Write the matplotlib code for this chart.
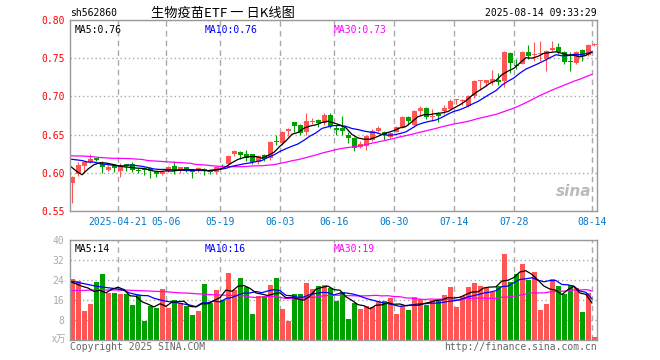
import numpy as np
import pandas as pd
import matplotlib
matplotlib.use('Agg')
from matplotlib import pyplot as plt

plt.rcParams['font.family'] = ['DejaVu Sans Mono', 'Noto Sans CJK SC']

# daily candles, 2025-04-09 .. 2025-08-14
open_ = [0.587, 0.598, 0.609, 0.614, 0.619, 0.612, 0.604, 0.610, 0.602, 0.611,
         0.612, 0.604, 0.606, 0.606, 0.601, 0.598, 0.602, 0.609, 0.602, 0.607,
         0.604, 0.603, 0.605, 0.602, 0.601, 0.609, 0.611, 0.625, 0.627, 0.625,
         0.624, 0.614, 0.623, 0.619, 0.641, 0.639, 0.655, 0.666, 0.662, 0.653,
         0.667, 0.669, 0.665, 0.676, 0.658, 0.659, 0.650, 0.645, 0.634, 0.635,
         0.643, 0.655, 0.654, 0.647, 0.654, 0.659, 0.673, 0.662, 0.681, 0.685,
         0.673, 0.677, 0.681, 0.684, 0.695, 0.694, 0.688, 0.700, 0.720, 0.718,
         0.719, 0.722, 0.720, 0.757, 0.741, 0.743, 0.758, 0.754, 0.755, 0.749,
         0.761, 0.765, 0.758, 0.746, 0.744, 0.761, 0.754, 0.767]
close = [0.594, 0.610, 0.614, 0.618, 0.617, 0.607, 0.608, 0.606, 0.609, 0.609,
         0.604, 0.603, 0.604, 0.602, 0.598, 0.601, 0.608, 0.602, 0.607, 0.603,
         0.601, 0.606, 0.602, 0.601, 0.607, 0.608, 0.622, 0.628, 0.623, 0.619,
         0.614, 0.622, 0.618, 0.640, 0.640, 0.654, 0.657, 0.661, 0.652, 0.668,
         0.668, 0.665, 0.676, 0.661, 0.656, 0.655, 0.646, 0.633, 0.638, 0.648,
         0.655, 0.659, 0.650, 0.652, 0.660, 0.673, 0.668, 0.681, 0.685, 0.673,
         0.674, 0.675, 0.685, 0.694, 0.696, 0.695, 0.701, 0.720, 0.721, 0.721,
         0.723, 0.719, 0.758, 0.744, 0.740, 0.758, 0.753, 0.755, 0.756, 0.760,
         0.763, 0.758, 0.745, 0.745, 0.758, 0.753, 0.767, 0.769]
high = [0.596, 0.614, 0.616, 0.625, 0.620, 0.615, 0.610, 0.612, 0.613, 0.612,
        0.614, 0.606, 0.607, 0.608, 0.602, 0.602, 0.609, 0.615, 0.608, 0.608,
        0.605, 0.607, 0.606, 0.603, 0.608, 0.611, 0.623, 0.630, 0.628, 0.630,
        0.625, 0.623, 0.625, 0.641, 0.650, 0.655, 0.658, 0.667, 0.664, 0.678,
        0.672, 0.671, 0.678, 0.678, 0.663, 0.675, 0.654, 0.647, 0.641, 0.649,
        0.657, 0.661, 0.655, 0.654, 0.661, 0.674, 0.674, 0.682, 0.688, 0.686,
        0.684, 0.680, 0.689, 0.697, 0.696, 0.697, 0.702, 0.721, 0.722, 0.722,
        0.734, 0.731, 0.760, 0.758, 0.749, 0.759, 0.767, 0.771, 0.772, 0.761,
        0.772, 0.770, 0.759, 0.758, 0.759, 0.762, 0.768, 0.770]
low = [0.561, 0.596, 0.600, 0.613, 0.615, 0.600, 0.603, 0.601, 0.594, 0.603,
       0.601, 0.600, 0.597, 0.593, 0.595, 0.597, 0.601, 0.598, 0.600, 0.601,
       0.593, 0.601, 0.597, 0.598, 0.598, 0.607, 0.610, 0.622, 0.618, 0.616,
       0.612, 0.612, 0.615, 0.617, 0.637, 0.637, 0.648, 0.653, 0.650, 0.650,
       0.664, 0.660, 0.663, 0.659, 0.650, 0.649, 0.639, 0.629, 0.633, 0.630,
       0.641, 0.653, 0.643, 0.645, 0.653, 0.658, 0.662, 0.660, 0.675, 0.670,
       0.668, 0.667, 0.677, 0.683, 0.690, 0.689, 0.686, 0.698, 0.709, 0.713,
       0.715, 0.715, 0.712, 0.731, 0.736, 0.742, 0.749, 0.746, 0.746, 0.733,
       0.760, 0.756, 0.742, 0.733, 0.743, 0.746, 0.753, 0.766]
# volume (x万)
volume = [24.4, 23.5, 11.7, 14.4, 23.2, 26.4, 18.8, 18.8, 18.4, 18.4,
          14.0, 17.9, 7.7, 13.7, 12.8, 20.4, 12.8, 16.0, 14.8, 13.6,
          10.0, 11.7, 22.4, 14.7, 20.0, 16.0, 26.8, 20.0, 24.8, 21.3,
          10.4, 17.6, 17.6, 22.0, 24.8, 12.4, 7.7, 18.4, 18.4, 22.8,
          20.4, 21.6, 22.0, 21.0, 15.7, 19.3, 8.4, 14.9, 12.4, 13.6,
          13.1, 15.6, 15.6, 16.8, 10.4, 13.6, 12.0, 17.1, 16.3, 14.0,
          16.0, 15.7, 18.0, 21.1, 13.1, 17.6, 21.2, 22.9, 21.6, 20.9,
          19.3, 21.6, 34.4, 23.3, 26.4, 30.4, 24.0, 27.1, 12.0, 14.4,
          24.4, 21.6, 18.4, 22.0, 20.8, 11.2, 18.9, 1.2]

# moving averages before enough bars are on screen
ma5_head = [0.609, 0.6026, 0.5974, 0.6049]
ma10_head = [0.618, 0.617, 0.616, 0.614, 0.614, 0.612, 0.611, 0.610, 0.609]
ma30_head = [0.6224, 0.622, 0.622, 0.6215, 0.621, 0.620, 0.6195, 0.619, 0.619, 0.6188,
             0.6185, 0.618, 0.6175, 0.616, 0.6155, 0.615, 0.6145, 0.614, 0.6135, 0.613,
             0.6125, 0.611, 0.6105, 0.6098, 0.609, 0.6085, 0.6083, 0.608, 0.608]
vma5_head = [23.3, 22.5, 21.5, 20.8]
vma10_head = [23.6, 23.2, 22.7, 22.2, 21.7, 21.3, 21.0, 20.7, 20.4]
vma30_head = [19.7, 19.8, 19.8, 19.9, 20.0, 20.0, 20.0, 20.0, 20.0, 20.0,
              19.9, 19.8, 19.7, 19.6, 19.5, 19.4, 19.3, 19.1, 18.9, 18.8,
              18.7, 18.5, 18.4, 18.2, 18.1, 18.0, 17.9, 17.8, 17.7]

date_idx = [8, 16, 25, 35, 44, 54, 64, 74, 87]
date_labels = ['2025-04-21', '05-06', '05-19', '06-03', '06-16', '06-30', '07-14', '07-28', '08-14']
price_ticks = [0.55, 0.60, 0.65, 0.70, 0.75, 0.80]
vol_ticks = [8, 16, 24, 32, 40]

RED = '#ff5555'
GREEN = '#00a000'
GRID = '#aaaaaa'
FRAME = '#999999'


def with_head(vals, n, head):
    ma = pd.Series(vals).rolling(n).mean().to_numpy()
    ma[:n - 1] = head
    return ma


open_ = np.array(open_)
close = np.array(close)
high = np.array(high)
low = np.array(low)
volume = np.array(volume)
x = np.arange(len(close))
off = -0.4  # grid / MA lines sit at the left edge of each bar
cols = np.where(close >= open_, RED, GREEN)

fig = plt.figure(figsize=(6.6, 3.6), dpi=100)
ax = fig.add_axes([70 / 660, 1 - 211 / 360, 527 / 660, 191 / 360])
axv = fig.add_axes([70 / 660, 1 - 340 / 360, 527 / 660, 100 / 360])

for a in (ax, axv):
    a.set_xlim(-0.4, len(close) - 0.55)
    for s in a.spines.values():
        s.set_color(FRAME)
        s.set_linewidth(1.0)
    a.set_axisbelow(True)
    a.set_xticks(np.array(date_idx) + off)
    a.grid(axis='x', color=GRID, ls=(0, (4, 3)), lw=1.0)
    a.grid(axis='y', color=GRID, ls=(0, (1, 2)), lw=1.0)
    a.tick_params(length=0)

# price panel
ax.set_ylim(0.55, 0.80)
ax.set_yticks(price_ticks)
ax.set_yticklabels(['%.2f' % p for p in price_ticks], color='#ff0000', fontsize=7)
ax.set_xticklabels(date_labels, color='#0078c8', fontsize=7)
ax.tick_params(axis='y', pad=4)
ax.tick_params(axis='x', pad=4)

ax.vlines(x, low, high, colors=cols, lw=0.8)
body_h = np.maximum(np.abs(close - open_), 0.0012)
ax.bar(x, body_h, bottom=np.minimum(open_, close), width=0.82, color=cols, lw=0)

ax.plot(x + off, with_head(close, 30, ma30_head), color='#ff00ff', lw=0.9)
ax.plot(x + off, with_head(close, 10, ma10_head), color='#0000ff', lw=0.9)
ax.plot(x + off, with_head(close, 5, ma5_head), color='black', lw=0.9)

ax.text(0.009, 0.975, 'MA5:0.76', transform=ax.transAxes, fontsize=7, color='black', va='top')
ax.text(0.255, 0.975, 'MA10:0.76', transform=ax.transAxes, fontsize=7, color='#0000ff', va='top')
ax.text(0.501, 0.975, 'MA30:0.73', transform=ax.transAxes, fontsize=7, color='#ff00ff', va='top')
ax.text(0.99, 0.1, 'sina', transform=ax.transAxes, fontsize=11, color='#bbbbbb',
        style='italic', weight='bold', ha='right', va='center', family='DejaVu Sans')

# volume panel
axv.set_ylim(0, 40)
axv.set_yticks(vol_ticks)
axv.set_yticklabels([str(v) for v in vol_ticks], color='#aaaaaa', fontsize=7)
axv.set_xticklabels([])
axv.tick_params(axis='y', pad=4)
axv.bar(x, volume, width=0.82, color=cols, lw=0)
axv.plot(x + off, with_head(volume, 30, vma30_head), color='#ff00ff', lw=0.9)
axv.plot(x + off, with_head(volume, 10, vma10_head), color='#0000ff', lw=0.9)
axv.plot(x + off, with_head(volume, 5, vma5_head), color='black', lw=0.9)
axv.text(0.009, 0.96, 'MA5:14', transform=axv.transAxes, fontsize=7, color='black', va='top')
axv.text(0.255, 0.96, 'MA10:16', transform=axv.transAxes, fontsize=7, color='#0000ff', va='top')
axv.text(0.501, 0.96, 'MA30:19', transform=axv.transAxes, fontsize=7, color='#ff00ff', va='top')

# header and footer
fig.text(70 / 660, 1 - 13 / 360, 'sh562860', fontsize=7, va='center', ha='left')
fig.text(223 / 660, 1 - 13 / 360, '生物疫苗ETF 一 日K线图', fontsize=9.5, va='center', ha='center',
         family=['Noto Sans CJK SC', 'DejaVu Sans'])
fig.text(597 / 660, 1 - 13 / 360, '2025-08-14 09:33:29', fontsize=7, va='center', ha='right')
fig.text(66 / 660, 1 - 339 / 360, 'x万', fontsize=7, va='center', ha='right', color='#aaaaaa',
         family=['Noto Sans CJK SC', 'DejaVu Sans'])
fig.text(70 / 660, 1 - 347 / 360, 'Copyright 2025 SINA.COM', fontsize=7, va='center', ha='left', color='#666666')
fig.text(597 / 660, 1 - 347 / 360, 'http://finance.sina.com.cn', fontsize=7, va='center', ha='right', color='#666666')

fig.savefig('out.png', dpi=100)
